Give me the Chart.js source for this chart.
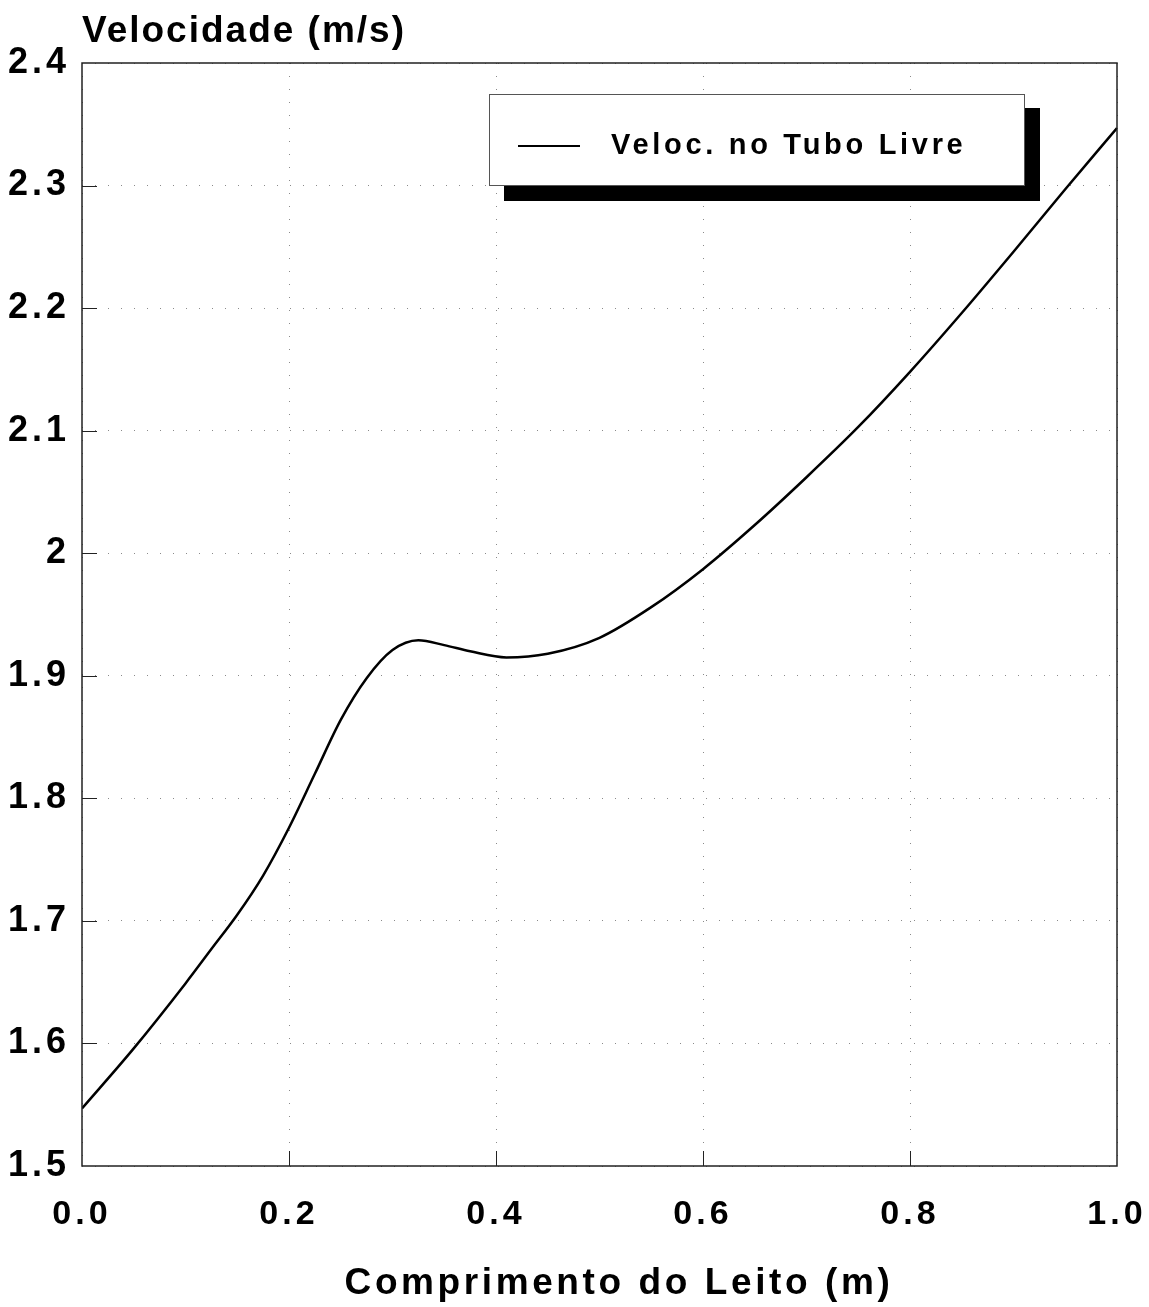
<!DOCTYPE html>
<html>
<head>
<meta charset="utf-8">
<script src="https://cdn.jsdelivr.net/npm/chart.js@4"></script>
<style>
  html, body { margin: 0; background: #fff; }
</style>
</head>
<body>
<canvas id="myChart" width="1149" height="1307"></canvas>
<script>
const comprimento = [0, 0.05, 0.1, 0.125, 0.15, 0.175, 0.2, 0.225, 0.25, 0.275, 0.3, 0.325, 0.35, 0.375, 0.41, 0.45, 0.5, 0.55, 0.6, 0.65, 0.7, 0.75, 0.8, 0.85, 0.9, 0.95, 1.0];
const velocidade = [1.547, 1.596, 1.649, 1.677, 1.705, 1.737, 1.776, 1.820, 1.864, 1.898, 1.921, 1.929, 1.925, 1.920, 1.915, 1.918, 1.931, 1.956, 1.987, 2.023, 2.062, 2.103, 2.148, 2.196, 2.246, 2.297, 2.347];
const xTicks = [0, 0.2, 0.4, 0.6, 0.8, 1.0];
const yTicks = [1.5, 1.6, 1.7, 1.8, 1.9, 2.0, 2.1, 2.2, 2.3, 2.4];

const FONT = "'Liberation Sans', Arial, Helvetica, sans-serif";

// frame, inward tick marks, axis titles and the boxed legend with its drop shadow
const decorations = {
  id: "decorations",
  beforeDraw(chart) {
    chart.ctx.letterSpacing = "4px";
  },
  afterDraw(chart) {
    const { ctx, chartArea: a, scales } = chart;
    ctx.save();

    ctx.strokeStyle = "#222";
    ctx.lineWidth = 1.5;
    ctx.strokeRect(a.left, a.top, a.right - a.left, a.bottom - a.top);

    ctx.lineWidth = 1;
    ctx.beginPath();
    xTicks.slice(1, -1).forEach((v) => {
      const px = Math.round(scales.x.getPixelForValue(v)) + 0.5;
      ctx.moveTo(px, a.bottom);
      ctx.lineTo(px, a.bottom - 15);
    });
    yTicks.slice(1, -1).forEach((v) => {
      const py = Math.round(scales.y.getPixelForValue(v)) + 0.5;
      ctx.moveTo(a.left, py);
      ctx.lineTo(a.left + 15, py);
    });
    ctx.stroke();

    ctx.fillStyle = "#000";
    ctx.textBaseline = "alphabetic";
    ctx.font = "bold 37px " + FONT;
    ctx.letterSpacing = "2px";
    ctx.textAlign = "left";
    ctx.fillText("Velocidade (m/s)", a.left, 42);

    ctx.letterSpacing = "3.6px";
    ctx.textAlign = "center";
    ctx.fillText("Comprimento do Leito (m)", 619, 1294);

    // legend
    const bx = 489, by = 94, bw = 535, bh = 91;
    ctx.fillStyle = "#000";
    ctx.fillRect(bx + 15, by + 14, bw + 1, bh + 2);
    ctx.fillStyle = "#fff";
    ctx.fillRect(bx, by, bw, bh);
    ctx.strokeStyle = "#555";
    ctx.lineWidth = 1;
    ctx.strokeRect(bx + 0.5, by + 0.5, bw, bh);

    const ds = chart.data.datasets[0];
    ctx.strokeStyle = ds.borderColor;
    ctx.lineWidth = 2;
    ctx.beginPath();
    ctx.moveTo(518, by + 52);
    ctx.lineTo(580, by + 52);
    ctx.stroke();

    ctx.fillStyle = "#000";
    ctx.font = "bold 29px " + FONT;
    ctx.letterSpacing = "3.7px";
    ctx.textAlign = "left";
    ctx.textBaseline = "middle";
    ctx.fillText(ds.label, 611, by + 52);

    ctx.restore();
  },
};

const data = {
  datasets: [
    {
      label: "Veloc. no Tubo Livre",
      data: comprimento.map((x, i) => ({ x: x, y: velocidade[i] })),
      borderColor: "#000",
      borderWidth: 2.5,
      pointRadius: 0,
      fill: false,
      cubicInterpolationMode: "monotone",
    },
  ],
};

const config = {
  type: "line",
  data: data,
  plugins: [decorations],
  options: {
    responsive: false,
    animation: false,
    devicePixelRatio: 1,
    layout: { padding: { top: 63, right: 32, left: 0, bottom: 0 } },
    plugins: { legend: { display: false }, tooltip: { enabled: false } },
    scales: {
      x: {
        type: "linear",
        min: 0,
        max: 1,
        afterBuildTicks: (s) => {
          s.ticks = xTicks.map((v) => ({ value: v }));
        },
        afterFit: (s) => {
          s.height = 141;
          s.paddingLeft = 0;
          s.paddingRight = 0;
        },
        grid: { color: "#8a8a8a", lineWidth: 1, drawTicks: false },
        border: { display: false, dash: [1, 12] },
        ticks: {
          color: "#000",
          padding: 28,
          maxRotation: 0,
          font: { family: FONT, size: 34, weight: "bold" },
          callback: (value) => value.toFixed(1),
        },
      },
      y: {
        type: "linear",
        min: 1.5,
        max: 2.4,
        afterBuildTicks: (s) => {
          s.ticks = yTicks.map((v) => ({ value: v }));
        },
        afterFit: (s) => {
          s.width = 82;
          s.paddingTop = 0;
          s.paddingBottom = 0;
        },
        grid: { color: "#8a8a8a", lineWidth: 1, drawTicks: false },
        border: { display: false, dash: [1, 12] },
        ticks: {
          color: "#000",
          padding: 12,
          font: { family: FONT, size: 36, weight: "bold" },
          callback: (value) => String(Number(value.toFixed(1))),
        },
      },
    },
  },
};

let myChart = new Chart(document.getElementById("myChart"), config);
</script>
</body>
</html>
